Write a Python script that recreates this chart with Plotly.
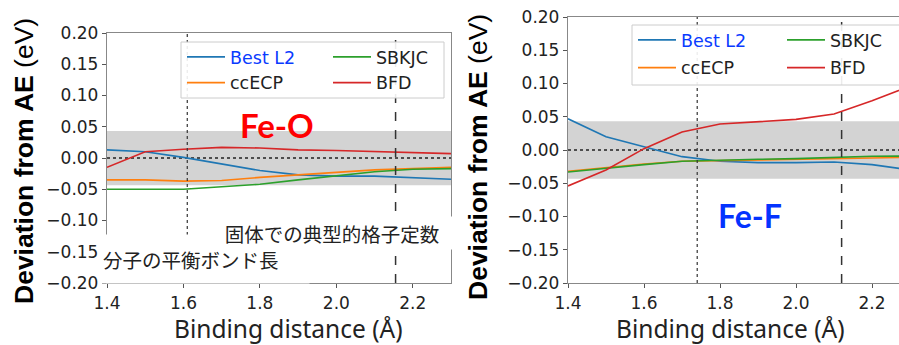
import plotly.graph_objects as go

# ---------------- data ----------------
x_dist = [1.4, 1.5, 1.6, 1.7, 1.8, 1.9, 2.0, 2.1, 2.2, 2.3]

feo_best_l2 = [0.013, 0.010, 0.001, -0.010, -0.020, -0.027, -0.029, -0.029, -0.032, -0.034]
feo_ccecp   = [-0.035, -0.035, -0.037, -0.036, -0.031, -0.027, -0.023, -0.019, -0.017, -0.015]
feo_sbkjc   = [-0.050, -0.050, -0.050, -0.046, -0.042, -0.035, -0.028, -0.022, -0.018, -0.017]
feo_bfd     = [-0.015, 0.010, 0.014, 0.017, 0.016, 0.013, 0.012, 0.010, 0.009, 0.007]

fef_best_l2 = [0.047, 0.020, 0.005, -0.010, -0.017, -0.019, -0.019, -0.018, -0.022, -0.030]
fef_ccecp   = [-0.032, -0.026, -0.021, -0.017, -0.016, -0.015, -0.014, -0.012, -0.011, -0.011]
fef_sbkjc   = [-0.033, -0.027, -0.022, -0.017, -0.015, -0.014, -0.013, -0.011, -0.0095, -0.009]
fef_bfd     = [-0.054, -0.030, 0.002, 0.027, 0.039, 0.043, 0.046, 0.054, 0.074, 0.096]

series_names = ["Best L2", "ccECP", "SBKJC", "BFD"]
series_colors = ["#1f77b4", "#ff7f0e", "#2ca02c", "#d62728"]

chem_acc = 0.0434                # eV band half-width
feo_ref = [1.61, 2.155]          # dotted (molecule), dashed (solid)
fef_ref = [1.74, 2.12]

y_ticks = [-0.20, -0.15, -0.10, -0.05, 0.00, 0.05, 0.10, 0.15, 0.20]
x_ticks = [1.4, 1.6, 1.8, 2.0, 2.2]

W, H = 899, 345
def px(v): return v / W
def py(v): return (H - v) / H

fig = go.Figure()

panels = [
    dict(xa="x", ya="y", data=[feo_best_l2, feo_ccecp, feo_sbkjc, feo_bfd],
         legends=["legend", "legend", "legend2", "legend2"]),
    dict(xa="x2", ya="y2", data=[fef_best_l2, fef_ccecp, fef_sbkjc, fef_bfd],
         legends=["legend3", "legend3", "legend4", "legend4"]),
]
for p in panels:
    for i, (nm, col, ys) in enumerate(zip(series_names, series_colors, p["data"])):
        label = nm if nm != "Best L2" else "<span style='color:#0a3bff'>Best L2</span>"
        fig.add_trace(go.Scatter(
            x=x_dist, y=ys, mode="lines", name=label,
            line=dict(color=col, width=1.6),
            xaxis=p["xa"], yaxis=p["ya"], legend=p["legends"][i],
            legendgroup=p["xa"] + nm, showlegend=True))

axis_common = dict(showline=True, linecolor="#888888", linewidth=1.3,
                   ticks="outside", ticklen=4, tickcolor="#555555",
                   showgrid=False, zeroline=False, automargin=False,
                   tickfont=dict(family="DejaVu Sans", size=17, color="#222222"))

fig.update_layout(
    width=W, height=H, margin=dict(l=0, r=0, t=0, b=0, autoexpand=False),
    paper_bgcolor="white", plot_bgcolor="white", showlegend=True,
    xaxis=dict(domain=[px(107), px(451)], range=[1.4, 2.3], anchor="y",
               tickvals=x_ticks, tickformat=".1f", mirror=True, **axis_common),
    yaxis=dict(domain=[0.1797, py(33)], range=[-0.2, 0.2], anchor="x",
               tickvals=y_ticks, tickformat=".2f", mirror=True, **axis_common),
    xaxis2=dict(domain=[px(568), 1.0], range=[1.4, 2.271], anchor="y2",
                tickvals=x_ticks, tickformat=".1f", mirror=True, **axis_common),
    yaxis2=dict(domain=[0.1797, py(17)], range=[-0.2, 0.2], anchor="x2",
                tickvals=y_ticks, tickformat=".2f", mirror=False, **axis_common),
)

leg_common = dict(xanchor="left", yanchor="top", bgcolor="rgba(0,0,0,0)",
                  borderwidth=0, itemwidth=38, orientation="v",
                  font=dict(family="DejaVu Sans", size=17.5, color="#222222"),
                  itemclick=False)
fig.update_layout(
    legend=dict(x=px(182), y=py(39), tracegroupgap=0, **leg_common),
    legend2=dict(x=px(328), y=py(39), tracegroupgap=0, **leg_common),
    legend3=dict(x=px(633), y=py(22), tracegroupgap=2, **leg_common),
    legend4=dict(x=px(782), y=py(22), tracegroupgap=2, **leg_common),
)

shapes = []
for xa, ya, refs in [("x", "y", feo_ref), ("x2", "y2", fef_ref)]:
    shapes.append(dict(type="rect", xref=f"{xa} domain", yref=ya, x0=0, x1=1,
                       y0=-chem_acc, y1=chem_acc, fillcolor="#d3d3d3",
                       line=dict(width=0), layer="below"))
    shapes.append(dict(type="line", xref=f"{xa} domain", yref=ya, x0=0, x1=1,
                       y0=0, y1=0, line=dict(color="#222222", width=1.3, dash="dot"),
                       layer="below"))
    shapes.append(dict(type="line", xref=xa, yref=f"{ya} domain", x0=refs[0], x1=refs[0],
                       y0=0, y1=1, line=dict(color="#333333", width=1.2, dash="dot")))
    shapes.append(dict(type="line", xref=xa, yref=f"{ya} domain", x0=refs[1], x1=refs[1],
                       y0=0, y1=1, line=dict(color="#333333", width=1.5, dash="dash")))
# legend frames
shapes.append(dict(type="rect", xref="paper", yref="paper", x0=px(181), x1=px(444),
                   y0=py(98), y1=py(42), fillcolor="rgba(255,255,255,0.9)",
                   line=dict(color="#cccccc", width=1), layer="above"))
shapes.append(dict(type="rect", xref="paper", yref="paper", x0=px(632), x1=px(905),
                   y0=py(85), y1=py(25), fillcolor="rgba(255,255,255,0.9)",
                   line=dict(color="#cccccc", width=1), layer="above"))
fig.update_layout(shapes=shapes)

ytitle = "<b>Deviation from AE</b> (eV)"
ann = [
    dict(text=ytitle, x=px(24), y=py(161), textangle=-90,
         font=dict(family="Liberation Sans", size=26.5, color="black")),
    dict(text=ytitle, x=px(478), y=py(157), textangle=-90,
         font=dict(family="Liberation Sans", size=26.5, color="black")),
    dict(text="Binding distance (Å)", x=px(288), y=py(328),
         font=dict(family="Noto Sans", size=24.5, color="#222222")),
    dict(text="Binding distance (Å)", x=px(730), y=py(328),
         font=dict(family="Noto Sans", size=24.5, color="#222222")),
    dict(text="<b>Fe-O</b>", x=px(277), y=py(125),
         font=dict(family="Lato", size=33, color="#ff0000")),
    dict(text="<b>Fe-F</b>", x=px(750), y=py(216),
         font=dict(family="Lato", size=32, color="#0433ff")),
    dict(text="分子の平衡ボンド長", x=px(205), y=py(259), width=205, height=46,
         bgcolor="white", align="left",
         font=dict(family="Noto Sans CJK JP", size=19.5, color="#222222")),
    dict(text="固体での典型的格子定数", x=px(332), y=py(232.5), width=246, height=30,
         bgcolor="white", font=dict(family="Noto Sans CJK JP", size=19.5, color="#222222")),
]
for a in ann:
    a.update(xref="paper", yref="paper", showarrow=False, xanchor="center", yanchor="middle")
fig.update_layout(annotations=ann)

fig.write_html("out.html")
